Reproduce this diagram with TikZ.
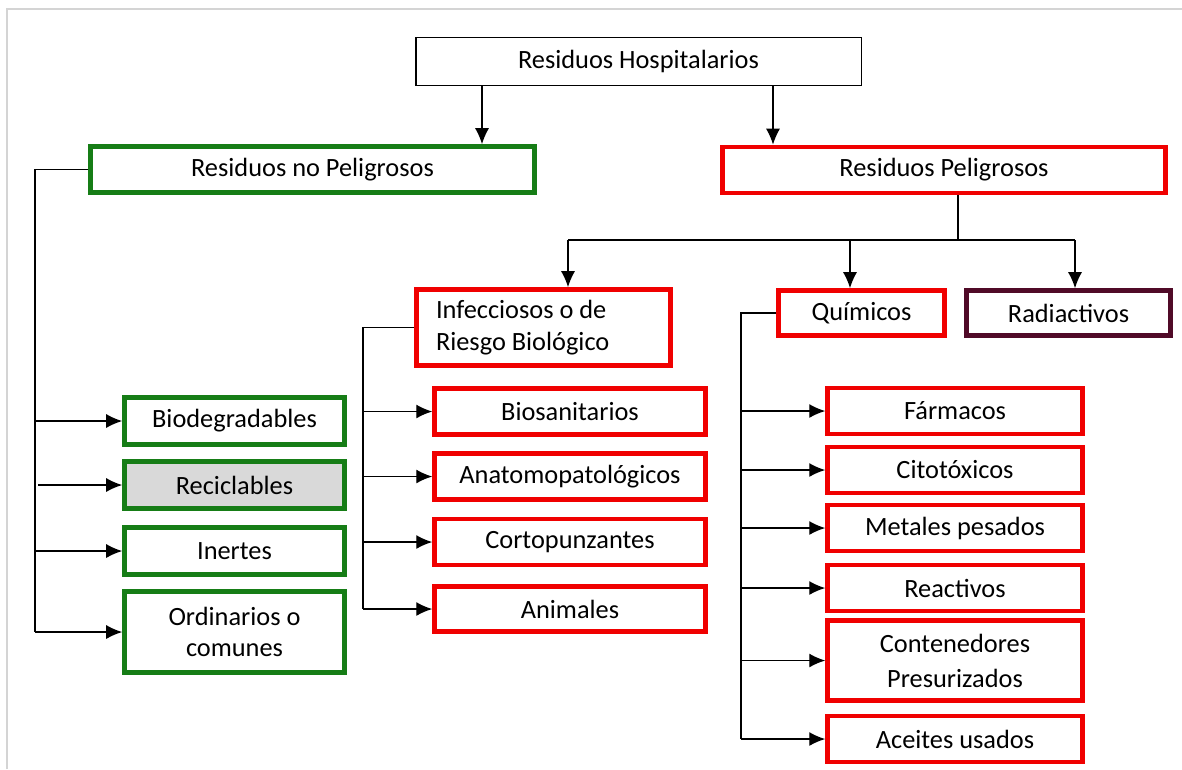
\documentclass[tikz,border=0pt]{standalone}
\usepackage{fontspec}
\setmainfont{Carlito}
\usetikzlibrary{arrows.meta,positioning}
\definecolor{myGreen}{RGB}{22,125,22}
\definecolor{myRed}{RGB}{240,0,0}
\definecolor{myMaroon}{RGB}{80,10,40}
\definecolor{myGray}{RGB}{217,217,217}
\definecolor{myFrame}{RGB}{212,212,212}
\tikzset{
myBox/.style={
	rectangle, draw, inner sep=0pt, align=center,
	font=\fontsize{15}{18}\selectfont, text=black
}
, myTop/.style={myBox, line width=0.8pt, draw=black}
, myGreenBox/.style={myBox, line width=2.6pt, draw=myGreen}
, myRedBox/.style={myBox, line width=2.6pt, draw=myRed}
, myMaroonBox/.style={myBox, line width=2.6pt, draw=myMaroon}
% columns
, myColL/.style={minimum width=4.4cm, minimum height=0.94cm}
, myColM/.style={minimum width=5.42cm, minimum height=0.92cm}
, myColR/.style={minimum width=5.1cm, minimum height=0.92cm}
% links
, myLine/.style={line width=0.8pt}
, myLink/.style={-{Latex[length=3.2mm,width=2.8mm]}, line width=0.8pt}
}

\begin{document}
\begin{tikzpicture}[x=0.02cm, y=-0.02cm]
	\useasboundingbox (0,0) rectangle (1182,769);
	% frame
	\draw[myFrame, line width=1.2pt] (7,769) -- (7,9) -- (1182,9);
	% nodes
	\node[myTop, minimum width=8.91cm, minimum height=0.95cm] (Top) at (638.5,61.5) {Residuos Hospitalarios};
	\node[myGreenBox, minimum width=8.88cm, minimum height=0.92cm] (NoPel) at (312.5,169.5) {Residuos no Peligrosos};
	\node[myRedBox, minimum width=8.86cm, minimum height=0.92cm] (Pel) at (944,170) {Residuos Peligrosos};
	\node[myRedBox, minimum width=5.08cm, minimum height=1.52cm, text width=4.3cm, align=flush left] (Infec) at (543.5,327.5) {Infecciosos o de\\Riesgo Biológico};
	\node[myRedBox, minimum width=3.32cm, minimum height=0.9cm] (Quim) at (861.5,313) {Químicos};
	\node[myMaroonBox, minimum width=4.08cm, minimum height=0.9cm] (Radi) at (1068.5,313) {Radiactivos};
	% no peligrosos
	\node[myGreenBox, myColL] (Bio) at (234.5,421) {\raisebox{-3pt}{Biodegradables}};
	\node[myGreenBox, myColL, fill=myGray] (Reci) at (234.5,485) {Reciclables};
	\node[myGreenBox, myColL] (Iner) at (234.5,551) {Inertes};
	\node[myGreenBox, myColL, minimum height=1.62cm] (Ordi) at (234.5,632) {Ordinarios o\\comunes};
	% infecciosos
	\node[myRedBox, myColM] (Biosa) at (570,411.5) {\raisebox{-4pt}{Biosanitarios}};
	\node[myRedBox, myColM] (Anato) at (570,476.5) {Anatomopatológicos};
	\node[myRedBox, myColM] (Corto) at (570,542) {Cortopunzantes};
	\node[myRedBox, myColM, minimum height=0.9cm] (Anim) at (570,609) {Animales};
	% quimicos
	\node[myRedBox, myColR] (Farm) at (955,411) {Fármacos};
	\node[myRedBox, myColR] (Cito) at (955,470) {Citotóxicos};
	\node[myRedBox, myColR] (Meta) at (955,528) {\raisebox{-4pt}{Metales pesados}};
	\node[myRedBox, myColR] (Reac) at (955,588) {Reactivos};
	\node[myRedBox, myColR, minimum height=1.6cm] (Cont) at (955,660.5) {Contenedores\\[2pt]Presurizados};
	\node[myRedBox, myColR] (Acei) at (955,739) {Aceites usados};

	% bus coordinates
	\coordinate (a1) at (482,0);
	\coordinate (a2) at (773,0);
	\coordinate (busL) at (35,0);
	\coordinate (busLb) at (38,0);
	\coordinate (stemP) at (958,240);
	\coordinate (dI) at (568,240);
	\coordinate (dQ) at (850,240);
	\coordinate (dR) at (1075,240);
	\coordinate (busI) at (363,0);
	\coordinate (busQ) at (741,0);

	% links
	\draw[myLink] (Top.south -| a1) -- (NoPel.north -| a1);
	\draw[myLink] (Top.south -| a2) -- (Pel.north -| a2);

	\draw[myLine] (NoPel.west) -- (NoPel.west -| busL) -- (Ordi.west -| busL);
	\draw[myLink] (Bio.west -| busL) -- (Bio.west);
	\draw[myLink] (Reci.west -| busLb) -- (Reci.west);
	\draw[myLink] (Iner.west -| busL) -- (Iner.west);
	\draw[myLink] (Ordi.west -| busL) -- (Ordi.west);

	\draw[myLine] (Pel.south -| stemP) -- (stemP);
	\draw[myLine] (dI) -- (dR);
	\draw[myLink] (dI) -- (dI |- Infec.north);
	\draw[myLink] (dQ) -- (dQ |- Quim.north);
	\draw[myLink] (dR) -- (dR |- Radi.north);

	\draw[myLine] (Infec.west) -- (Infec.west -| busI) -- (Anim.west -| busI);
	\foreach \n in {Biosa,Anato,Corto,Anim}
		\draw[myLink] (\n.west -| busI) -- (\n.west);

	\draw[myLine] (Quim.west) -- (Quim.west -| busQ) -- (Acei.west -| busQ);
	\foreach \n in {Farm,Cito,Meta,Reac,Cont,Acei}
		\draw[myLink] (\n.west -| busQ) -- (\n.west);
\end{tikzpicture}
\end{document}
